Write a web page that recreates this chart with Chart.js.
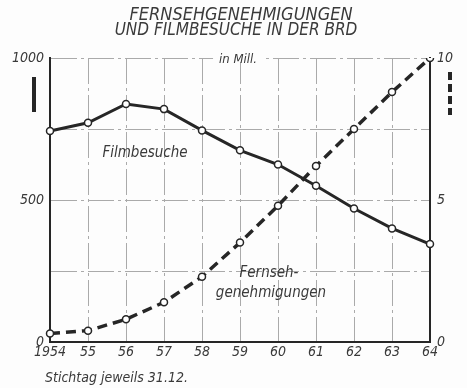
<!DOCTYPE html>
<html>
<head>
<meta charset="utf-8">
<script src="https://cdn.jsdelivr.net/npm/chart.js@4/dist/chart.umd.min.js"></script>
<style>
  html, body { margin: 0; padding: 0; background: #fdfdfd; }
  #wrap { width: 467px; height: 388px; }
</style>
</head>
<body>
<div id="wrap"><canvas id="kinoChart" width="467" height="388"></canvas></div>
<script>
// Years (Stichtag 31.12.)
const years = ["1954", "55", "56", "57", "58", "59", "60", "61", "62", "63", "64"];
// Filmbesuche in Mill. (left axis)
const filmbesuche = [743, 772, 838, 820, 745, 675, 625, 550, 470, 400, 345];
// Fernsehgenehmigungen in Mill. (right axis)
const fernsehgenehmigungen = [0.3, 0.4, 0.8, 1.4, 2.3, 3.5, 4.8, 6.2, 7.5, 8.8, 10.0];
// tick labels shown on the two value axes
const leftTicks = [0, 500, 1000];
const rightTicks = [0, 5, 10];

const ink = "#262626";
const textInk = "#3a3a3a";
const gridInk = "#aaaaaa";
const narrow = "'Liberation Sans Narrow', 'DejaVu Sans Condensed', sans-serif";

// title, unit note, series names, footnote and the small line keys
const annotations = {
  id: "annotations",
  afterDraw(chart) {
    const ctx = chart.ctx;
    const area = chart.chartArea;
    ctx.save();
    ctx.fillStyle = textInk;
    ctx.textAlign = "center";
    ctx.textBaseline = "middle";
    ctx.font = "italic 18px " + narrow;
    ctx.fillText("FERNSEHGENEHMIGUNGEN", 241, 15);
    ctx.font = "italic 17px " + narrow;
    ctx.fillText("UND FILMBESUCHE IN DER BRD", 236, 31);

    // unit note sits on the top grid line
    ctx.font = "italic 13px " + narrow;
    const w = ctx.measureText("in Mill.").width;
    ctx.fillStyle = "#fdfdfd";
    ctx.fillRect(238 - w / 2 - 6, area.top - 3, w + 12, 7);
    ctx.fillStyle = textInk;
    ctx.fillText("in Mill.", 238, area.top + 2);

    ctx.font = "italic 15px " + narrow;
    ctx.fillText("Filmbesuche", 145, 153);
    ctx.fillText("Fernseh-", 269, 273);
    ctx.fillText("genehmigungen", 271, 293);

    ctx.textAlign = "left";
    ctx.font = "italic 14px " + narrow;
    ctx.fillText("Stichtag jeweils 31.12.", 45, 378);

    // line keys beside the axes
    ctx.strokeStyle = ink;
    ctx.lineWidth = 4;
    ctx.beginPath();
    ctx.moveTo(34, 77);
    ctx.lineTo(34, 112);
    ctx.stroke();
    ctx.setLineDash([8, 4]);
    ctx.beginPath();
    ctx.moveTo(450, 72);
    ctx.lineTo(450, 115);
    ctx.stroke();
    ctx.restore();
  }
};

const hideEdges = (c) =>
  c.index === 0 || c.index === years.length - 1 ? "rgba(0,0,0,0)" : gridInk;

const ctx = document.getElementById("kinoChart").getContext("2d");
new Chart(ctx, {
  type: "line",
  data: {
    labels: years,
    datasets: [
      {
        label: "Filmbesuche",
        data: filmbesuche,
        yAxisID: "y",
        borderColor: ink,
        borderWidth: 3,
        pointRadius: 3.5,
        pointBackgroundColor: "#ffffff",
        pointBorderColor: ink,
        pointBorderWidth: 1.5,
        tension: 0,
      },
      {
        label: "Fernsehgenehmigungen",
        data: fernsehgenehmigungen,
        yAxisID: "y1",
        borderColor: ink,
        borderWidth: 3.5,
        borderDash: [10, 6],
        pointRadius: 3.5,
        pointBackgroundColor: "#ffffff",
        pointBorderColor: ink,
        pointBorderWidth: 1.5,
        tension: 0,
      },
    ],
  },
  options: {
    responsive: false,
    animation: false,
    layout: { padding: { top: 58, left: 0, right: 0, bottom: 0 } },
    plugins: {
      legend: { display: false },
      tooltip: { enabled: false },
    },
    scales: {
      x: {
        offset: false,
        grid: { color: hideEdges, lineWidth: 1, drawTicks: false },
        border: { color: ink, width: 2, dash: [26, 4, 3, 4] },
        ticks: {
          padding: 2,
          color: textInk,
          font: { family: narrow, size: 14, style: "italic" },
          maxRotation: 0,
          autoSkip: false,
        },
        afterFit(scale) {
          scale.height = 46;
        },
      },
      y: {
        position: "left",
        min: 0,
        max: 1000,
        grid: { color: gridInk, lineWidth: 1, drawTicks: false },
        border: { color: ink, width: 2, dash: [26, 4, 3, 4] },
        ticks: {
          stepSize: 250,
          padding: 6,
          color: textInk,
          font: { family: narrow, size: 14, style: "italic" },
          callback: (v) => (leftTicks.includes(v) ? String(v) : ""),
        },
        afterFit(scale) {
          scale.width = 50;
        },
      },
      y1: {
        position: "right",
        min: 0,
        max: 10,
        grid: { drawOnChartArea: false, drawTicks: false },
        border: { color: ink, width: 2 },
        ticks: {
          stepSize: 2.5,
          padding: 7,
          color: textInk,
          font: { family: narrow, size: 14, style: "italic" },
          callback: (v) => (rightTicks.includes(v) ? String(v) : ""),
        },
        afterFit(scale) {
          scale.width = 37;
        },
      },
    },
  },
  plugins: [annotations],
});
</script>
</body>
</html>
